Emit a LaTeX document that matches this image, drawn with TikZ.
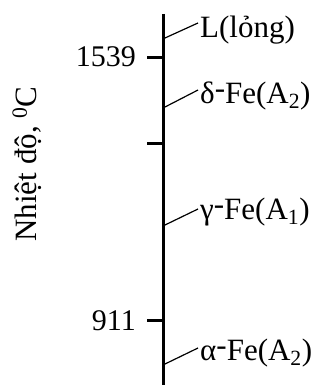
\documentclass[tikz,border=0pt]{standalone}
\usepackage{fontspec}
\setmainfont{Liberation Serif}
\newcommand{\hy}{\raisebox{0.15em}{-}}
\begin{document}
\begin{tikzpicture}[x=1pt,y=-1pt,
  txt/.style={font=\fontsize{30}{34}\selectfont, inner sep=0pt},
  lbl/.style={font=\fontsize{31}{34}\selectfont, inner sep=0pt, anchor=base west},
  num/.style={txt, anchor=base east},
  axisline/.style={line width=3.2pt},
  tickline/.style={line width=3pt},
  leader/.style={line width=1.2pt}]
\useasboundingbox (0,0) rectangle (320,385);
% axis
\coordinate (top) at (163.5,14);
\coordinate (bot) at (163.5,385);
\draw[axisline] (top) -- (bot);
% ticks
\coordinate (t1) at (163.5,58);
\coordinate (t2) at (163.5,143);
\coordinate (t3) at (163.5,320);
\coordinate (t1l) at (147,58);
\coordinate (t2l) at (147,143);
\coordinate (t3l) at (147,320);
\draw[tickline] (t1l) -- (t1);
\draw[tickline] (t2l) -- (t2);
\draw[tickline] (t3l) -- (t3);
% tick labels
\node[num] (n1539) at (136,67) {1539};
\node[num] (n911) at (136,330) {911};
% axis title
\node[font=\fontsize{31}{34}\selectfont, inner sep=0pt, rotate=90, anchor=base] (title) at (36,164) {Nhiệt độ, \textsuperscript{0}C};
% phase labels
\node[lbl] (L) at (200,38) {L(lỏng)};
\node[lbl] (d) at (200,103) {δ\hy Fe(A\textsubscript{2})};
\node[lbl] (g) at (200,219) {γ\hy Fe(A\textsubscript{1})};
\node[lbl] (a) at (200,360) {α\hy Fe(A\textsubscript{2})};
% leader ends
\coordinate (Le) at ([xshift=-2pt,yshift=15pt]L.base west);
\coordinate (de) at ([xshift=-2pt,yshift=13pt]d.base west);
\coordinate (ge) at ([xshift=-2pt,yshift=10pt]g.base west);
\coordinate (ae) at ([xshift=-2pt,yshift=12pt]a.base west);
\coordinate (La) at (165,38);
\coordinate (da) at (165,107);
\coordinate (ga) at (165,225);
\coordinate (aa) at (165,364);
\draw[leader] (La) -- (Le);
\draw[leader] (da) -- (de);
\draw[leader] (ga) -- (ge);
\draw[leader] (aa) -- (ae);
\end{tikzpicture}
\end{document}
